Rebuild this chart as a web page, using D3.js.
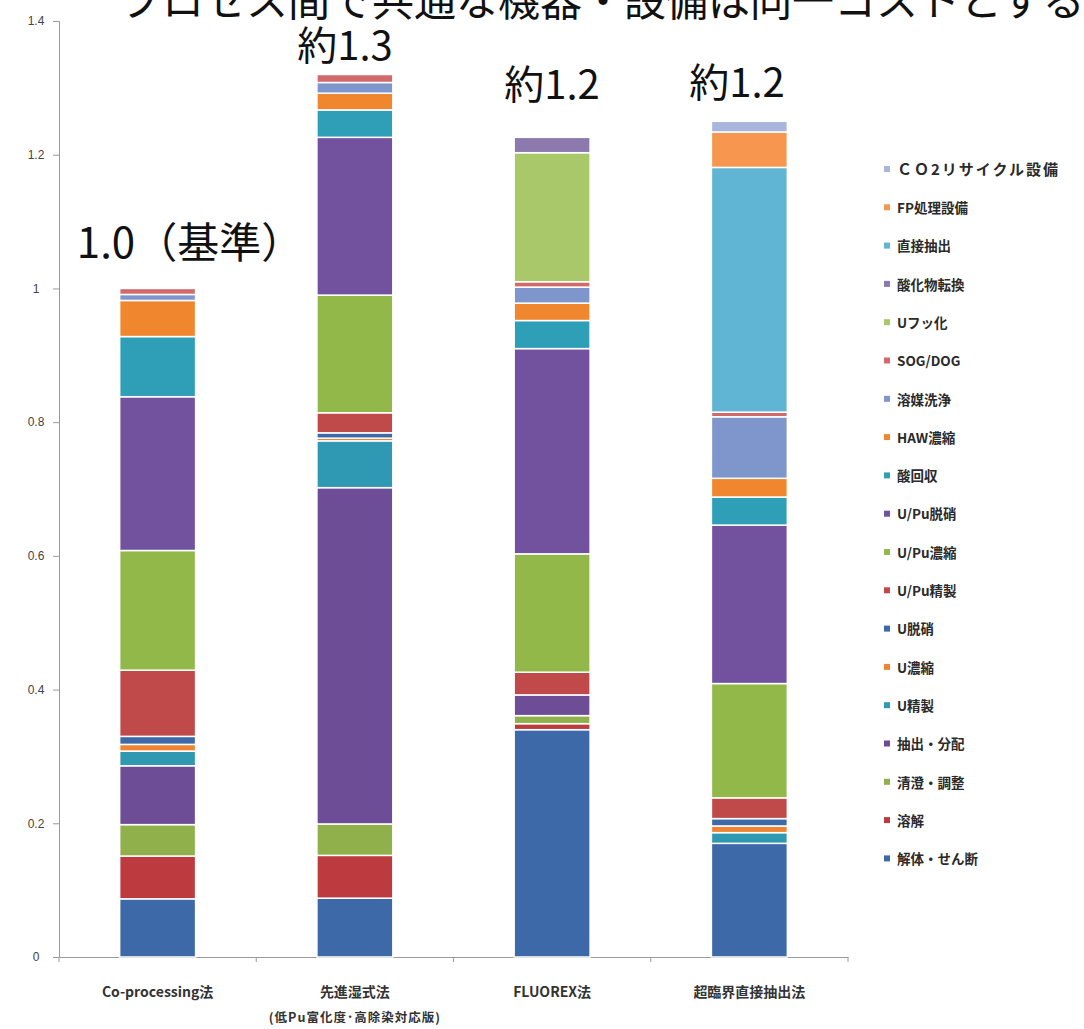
<!DOCTYPE html>
<html>
<head>
<meta charset="utf-8">
<script src="https://cdn.jsdelivr.net/npm/d3@7"></script>
<style>
  body { margin: 0; background: #fff; }
  svg { display: block; }
</style>
</head>
<body>
<div id="chart-area"></div>
<script>
// categories (x axis)
const categories = ['Co-processing法', '先進湿式法', 'FLUOREX法', '超臨界直接抽出法']
const subLabel = '(低Pu富化度･高除染対応版)'

// process steps, stacked from the bottom up
const seriesNames = ['解体・せん断', '溶解', '清澄・調整', '抽出・分配', 'U精製', 'U濃縮', 'U脱硝',
  'U/Pu精製', 'U/Pu濃縮', 'U/Pu脱硝', '酸回収', 'HAW濃縮', '溶媒洗浄', 'SOG/DOG',
  'Uフッ化', '酸化物転換', '直接抽出', 'FP処理設備', 'ＣＯ2リサイクル設備']

// relative cost per step, same order as seriesNames
const coProcessing = [0.087, 0.064, 0.047, 0.088, 0.022, 0.010, 0.012, 0.099, 0.179, 0.230,
  0.090, 0.054, 0.009, 0.009, 0, 0, 0, 0, 0]
const senshinShisshiki = [0.088, 0.064, 0.047, 0.503, 0.070, 0.004, 0.008, 0.030, 0.176, 0.236,
  0.041, 0.025, 0.016, 0.012, 0, 0, 0, 0, 0]
const fluorex = [0.340, 0.009, 0.012, 0.031, 0, 0, 0, 0.034, 0.177, 0.307,
  0.042, 0.026, 0.024, 0.008, 0.193, 0.023, 0, 0, 0]
const chorinkai = [0.170, 0, 0, 0, 0.016, 0.010, 0.011, 0.031, 0.171, 0.237,
  0.042, 0.028, 0.092, 0.007, 0, 0, 0.366, 0.053, 0.016]

const yTicks = [0, 0.2, 0.4, 0.6, 0.8, 1, 1.2, 1.4]
const totalLabels = ['1.0（基準）', '約1.3', '約1.2', '約1.2']
const title = 'プロセス間で共通な機器・設備は同一コストとする。'

const colors = ['#3d69a8', '#bd3b3e', '#8fb04a', '#6c4d96', '#2f98b3', '#ee8432', '#3d69a8',
  '#c04a4a', '#93b84a', '#72529f', '#2f9fb8', '#f0862e', '#7e96cb', '#d26a6c',
  '#a9c86a', '#8c7aae', '#60b4d4', '#f6964f', '#a8b6de']

const width = 1084
const height = 1029
const font = '"Noto Sans CJK JP", "Noto Sans", sans-serif'

const svg = d3.select('#chart-area').append('svg')
  .attr('width', width)
  .attr('height', height)
  .style('font-family', font)

const x = d3.scaleBand()
  .domain(categories)
  .range([59, 848])
  .paddingInner(0.615)
  .paddingOuter(0.3075)

const y = d3.scaleLinear()
  .domain([0, 1.4])
  .range([957, 21])

// build rows for d3.stack
const columns = [coProcessing, senshinShisshiki, fluorex, chorinkai]
const table = categories.map((c, i) => {
  const row = {category: c}
  seriesNames.forEach((s, j) => { row[s] = columns[i][j] })
  return row
})
const stacked = d3.stack().keys(seriesNames)(table)

// y axis
const yAxis = svg.append('g')
  .attr('transform', 'translate(59,0)')
  .call(d3.axisLeft(y).tickValues(yTicks).tickSize(6).tickFormat(d3.format('~g')))
yAxis.select('.domain').attr('stroke', '#9a9a9a')
yAxis.selectAll('.tick line').attr('stroke', '#9a9a9a')
yAxis.selectAll('.tick text')
  .attr('x', -23)
  .attr('text-anchor', 'middle')
  .attr('fill', '#444')
  .style('font-size', '12px')
  .style('font-family', '"Liberation Sans Narrow", "Liberation Sans", sans-serif')

// x axis
const xAxis = svg.append('g')
  .attr('transform', 'translate(0,957)')
  .call(d3.axisBottom(x).tickSize(0).tickPadding(30))
xAxis.select('.domain').attr('stroke', '#9a9a9a')
xAxis.selectAll('.tick text')
  .attr('fill', '#333')
  .style('font-size', '14px')
  .style('font-weight', 'bold')
  .style('font-family', font)

const boundaries = d3.range(categories.length + 1).map(i => 59 + i * x.step())
svg.append('g').selectAll('line')
  .data(boundaries)
  .join('line')
  .attr('x1', d => d).attr('x2', d => d)
  .attr('y1', 957).attr('y2', 962)
  .attr('stroke', '#9a9a9a')

svg.append('text')
  .attr('x', x(categories[1]) + x.bandwidth() / 2)
  .attr('y', 1022)
  .attr('text-anchor', 'middle')
  .attr('fill', '#333')
  .style('font-size', '12.5px')
  .style('font-weight', 'bold')
  .style('letter-spacing', '1px')
  .text(subLabel)

// bars
svg.append('g').selectAll('g')
  .data(stacked)
  .join('g')
  .attr('fill', (d, i) => colors[i])
  .selectAll('rect')
  .data(d => d.filter(p => p[1] - p[0] > 0))
  .join('rect')
  .attr('x', d => x(d.data.category))
  .attr('width', x.bandwidth())
  .attr('y', d => y(d[1]))
  .attr('height', d => y(d[0]) - y(d[1]))
  .attr('stroke', '#fff')
  .attr('stroke-width', 1.5)

// legend
const legend = svg.append('g')
  .selectAll('g')
  .data(seriesNames.map((s, i) => ({name: s, color: colors[i]})).reverse())
  .join('g')
  .attr('transform', (d, i) => `translate(884,${170 + i * 38.3})`)
legend.append('rect')
  .attr('x', 0).attr('y', -4)
  .attr('width', 6).attr('height', 6)
  .attr('fill', d => d.color)
legend.append('text')
  .attr('x', 13)
  .attr('y', 0)
  .attr('dy', '0.35em')
  .attr('fill', '#2a2a2a')
  .style('font-size', (d, i) => i === 0 ? '15px' : '13.5px')
  .style('font-weight', 'bold')
  .style('letter-spacing', (d, i) => i === 0 ? '2px' : null)
  .text(d => d.name)

// annotations
const annPos = [[190, 258], [345, 60], [552, 99], [737, 97]]
svg.append('g').selectAll('text')
  .data(totalLabels)
  .join('text')
  .attr('x', (d, i) => annPos[i][0])
  .attr('y', (d, i) => annPos[i][1])
  .attr('text-anchor', 'middle')
  .attr('fill', '#111')
  .style('font-size', (d, i) => i === 0 ? '42px' : '40px')
  .text(d => d)

svg.append('text')
  .attr('x', 120)
  .attr('y', 16)
  .attr('fill', '#111')
  .style('font-size', '42px')
  .text(title)
</script>
</body>
</html>
